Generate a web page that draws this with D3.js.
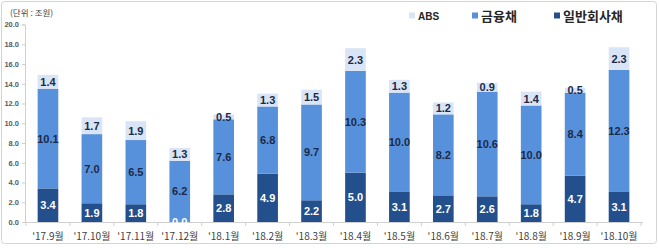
<!DOCTYPE html>
<html>
<head>
<meta charset="utf-8">
<script src="https://cdn.jsdelivr.net/npm/d3@7"></script>
<style>
  body { margin: 0; background: #fff; }
  svg { display: block; }
</style>
</head>
<body>
<div id="chart"></div>
<script>
var width = 659;
var height = 248;

// data
var categories = ["'17.9월", "'17.10월", "'17.11월", "'17.12월", "'18.1월", "'18.2월", "'18.3월",
                  "'18.4월", "'18.5월", "'18.6월", "'18.7월", "'18.8월", "'18.9월", "'18.10월"];
var corpBond = [3.4, 1.9, 1.8, 0.0, 2.8, 4.9, 2.2, 5.0, 3.1, 2.7, 2.6, 1.8, 4.7, 3.1];
var finBond  = [10.1, 7.0, 6.5, 6.2, 7.6, 6.8, 9.7, 10.3, 10.0, 8.2, 10.6, 10.0, 8.4, 12.3];
var absBond  = [1.4, 1.7, 1.9, 1.3, 0.5, 1.3, 1.5, 2.3, 1.3, 1.2, 0.9, 1.4, 0.5, 2.3];
var yTicks = [0, 2, 4, 6, 8, 10, 12, 14, 16, 18, 20];

var seriesNames = ["일반회사채", "금융채", "ABS"];
var colors = {"일반회사채": "#23508c", "금융채": "#5891db", "ABS": "#d9e5f6"};
var labelColors = {"일반회사채": "#ffffff", "금융채": "#1b2a48", "ABS": "#1b2a48"};

var table = categories.map(function(c, i) {
    return {cat: c, "일반회사채": corpBond[i], "금융채": finBond[i], "ABS": absBond[i]};
});

var svg = d3.select("#chart").append("svg").attr("width", width).attr("height", height);

// outer frame
svg.append("rect").attr("x", 1.5).attr("y", 1.5).attr("width", width - 4).attr("height", height - 6)
    .attr("rx", 3).attr("fill", "none").attr("stroke", "#d4d4d4");

var x = d3.scaleBand().domain(categories).range([26, 641]).paddingInner(0.53).paddingOuter(0.265);
var y = d3.scaleLinear().domain([0, 20]).range([222, 24.5]);

// y axis
var yAxis = svg.append("g").attr("transform", "translate(25,0)")
    .call(d3.axisLeft(y).tickValues(yTicks).tickFormat(d3.format(".1f")).tickSize(3).tickPadding(3));
yAxis.select(".domain").attr("stroke", "#d0d0d0");
yAxis.selectAll(".tick line").attr("stroke", "#d0d0d0");
yAxis.selectAll("text").attr("font-family", "'Liberation Sans', Arial, sans-serif")
    .attr("font-size", 7.5).attr("font-weight", "bold").attr("fill", "#595959");

// x axis
var xAxis = svg.append("g").attr("transform", "translate(0,222)")
    .call(d3.axisBottom(x).tickSize(0).tickPadding(11));
xAxis.select(".domain").attr("stroke", "#d0d0d0").attr("d", "M22,0.5H643");
xAxis.selectAll("text").attr("font-family", "'Noto Sans CJK KR', sans-serif")
    .attr("font-size", 10).attr("fill", "#404040");
// ticks between categories
svg.append("g").selectAll("line").data(d3.range(categories.length + 1)).join("line")
    .attr("x1", function(i) { return 26 + i * x.step(); })
    .attr("x2", function(i) { return 26 + i * x.step(); })
    .attr("y1", 222).attr("y2", 226).attr("stroke", "#d0d0d0");

// stacked bars
var stacked = d3.stack().keys(seriesNames)(table);

var layers = svg.append("g").selectAll("g").data(stacked).join("g")
    .attr("fill", function(d) { return colors[d.key]; });
layers.selectAll("rect").data(function(d) { return d; }).join("rect")
    .attr("x", function(d) { return x(d.data.cat); })
    .attr("y", function(d) { return y(d[1]); })
    .attr("width", x.bandwidth())
    .attr("height", function(d) { return y(d[0]) - y(d[1]); });

// value labels
var labels = svg.append("g").selectAll("g").data(stacked).join("g")
    .attr("fill", function(d) { return labelColors[d.key]; });
labels.selectAll("text").data(function(d) { return d.map(function(v) { return {v: v, key: d.key}; }); }).join("text")
    .attr("x", function(d) { return x(d.v.data.cat) + x.bandwidth() / 2; })
    .attr("y", function(d) { return y((d.v[0] + d.v[1]) / 2); })
    .attr("dy", "0.36em")
    .attr("text-anchor", "middle")
    .attr("font-family", "'Liberation Sans', Arial, sans-serif")
    .attr("font-size", 11).attr("font-weight", "bold")
    .text(function(d) { return d3.format(".1f")(d.v.data[d.key]); });

// unit
svg.append("text").attr("x", 10).attr("y", 16)
    .attr("font-family", "'Noto Sans CJK KR', sans-serif").attr("font-size", 8.5).attr("fill", "#404040")
    .text("(단위 : 조원)");

// legend
var legend = [
    {name: "ABS", x: 409, size: 10},
    {name: "금융채", x: 472, size: 13},
    {name: "일반회사채", x: 554, size: 13}
];
var lg = svg.append("g").selectAll("g").data(legend).join("g")
    .attr("transform", function(d) { return "translate(" + d.x + ",16)"; });
lg.append("rect").attr("x", 0).attr("y", -3.5).attr("width", 6).attr("height", 6)
    .attr("fill", function(d) { return colors[d.name]; });
lg.append("text").attr("x", 9).attr("dy", "0.36em")
    .attr("font-family", function(d) { return d.name == "ABS" ? "'Liberation Sans', Arial, sans-serif" : "'Noto Sans CJK KR', sans-serif"; })
    .attr("font-size", function(d) { return d.size; }).attr("font-weight", "bold").attr("fill", "#262626")
    .text(function(d) { return d.name; });
</script>
</body>
</html>
